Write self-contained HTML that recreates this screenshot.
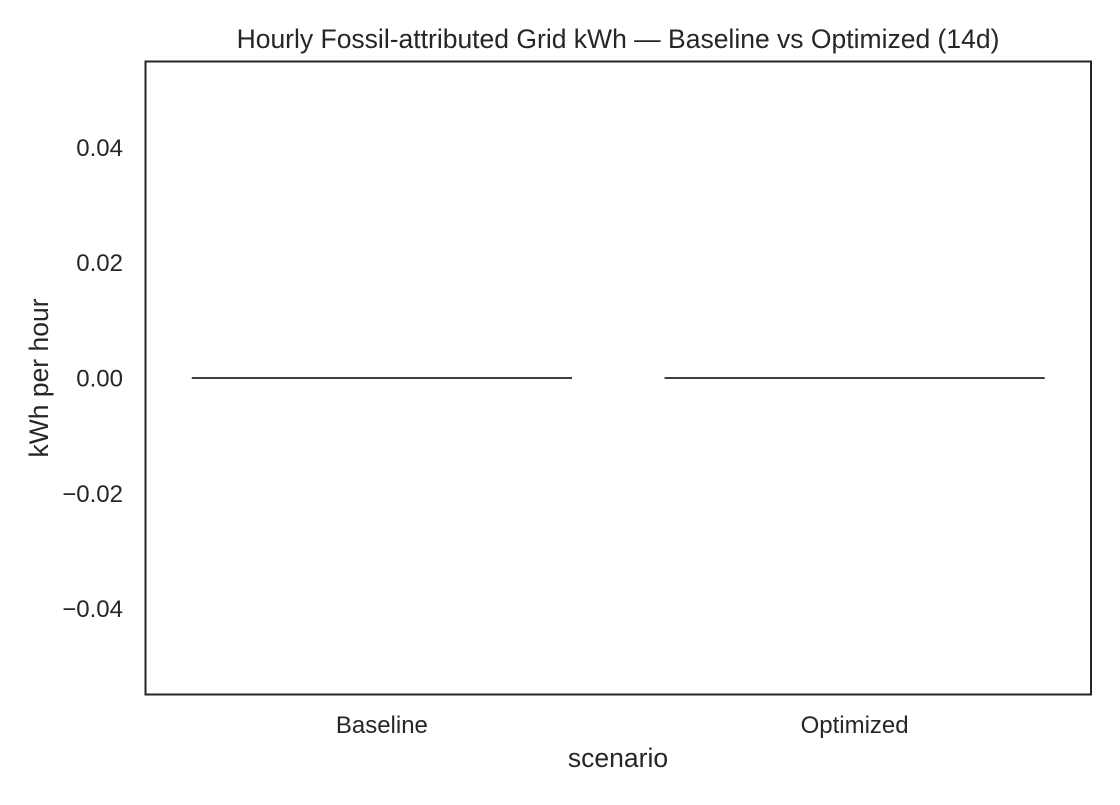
<!DOCTYPE html>
<html><head><meta charset="utf-8"><style>
body{margin:0;background:#fff;}
svg text{font-family:"Liberation Sans",sans-serif;fill:#262626;}
</style></head><body>
<svg id="chart" width="1120" height="800" xmlns="http://www.w3.org/2000/svg">
<rect width="1120" height="800" fill="#fff"/>
<text x="618" y="48" font-size="26.5" text-anchor="middle">Hourly Fossil-attributed Grid kWh — Baseline vs Optimized (14d)</text>
<g id="yt"></g><g id="xt"></g><g id="marks"></g>
<rect x="145.5" y="61.5" width="945.5" height="633" fill="none" stroke="#262626" stroke-width="2"/>
<text transform="translate(48,378) rotate(-90)" font-size="26.5" text-anchor="middle">kWh per hour</text>
<text x="618" y="767" font-size="26.5" text-anchor="middle">scenario</text>
</svg>
<script>
const categories=["Baseline","Optimized"];
const q1=[0,0];const med=[0,0];const q3=[0,0];const whiskLo=[0,0];const whiskHi=[0,0];
const yTicks=[0.04,0.02,0,-0.02,-0.04];
const yTickLabels=["0.04","0.02","0.00","\u22120.02","\u22120.04"];
const NS="http://www.w3.org/2000/svg";
const X0=145.5,X1=1091,Y0=61,Y1=695,YMIN=-0.055,YMAX=0.055;
function y(v){return Y1-(v-YMIN)/(YMAX-YMIN)*(Y1-Y0);}
const band=(X1-X0)/categories.length;
function xc(i){return X0+band*(i+0.5);}
function mk(t,a,p){const e=document.createElementNS(NS,t);for(const k in a)e.setAttribute(k,a[k]);p.appendChild(e);return e;}
const yt=document.getElementById('yt'),xt=document.getElementById('xt'),mg=document.getElementById('marks');
yTicks.forEach((v,i)=>{const t=mk('text',{x:123,y:y(v)+8.5,'font-size':24,'text-anchor':'end'},yt);t.textContent=yTickLabels[i];

});
categories.forEach((c,i)=>{
const t=mk('text',{x:xc(i),y:733,'font-size':24,'text-anchor':'middle'},xt);t.textContent=c;


const g=mk('g',{},mg);


const w=band*0.8,cx=xc(i);
mk('rect',{x:cx-w/2,y:y(q3[i]),width:w,height:Math.max(0.01,y(q1[i])-y(q3[i])),fill:'#4c72b0',stroke:'#3f3f3f','stroke-width':2},g);
mk('line',{x1:cx,x2:cx,y1:y(q3[i]),y2:y(whiskHi[i]),stroke:'#3f3f3f','stroke-width':2},g);
mk('line',{x1:cx,x2:cx,y1:y(q1[i]),y2:y(whiskLo[i]),stroke:'#3f3f3f','stroke-width':2},g);
mk('line',{x1:cx-w/4,x2:cx+w/4,y1:y(whiskHi[i]),y2:y(whiskHi[i]),stroke:'#555','stroke-width':2},g);
mk('line',{x1:cx-w/4,x2:cx+w/4,y1:y(whiskLo[i]),y2:y(whiskLo[i]),stroke:'#555','stroke-width':2},g);
mk('line',{x1:cx-w/2,x2:cx+w/2,y1:y(med[i]),y2:y(med[i]),stroke:'#3f3f3f','stroke-width':2},g);
});
</script>
</body></html>
